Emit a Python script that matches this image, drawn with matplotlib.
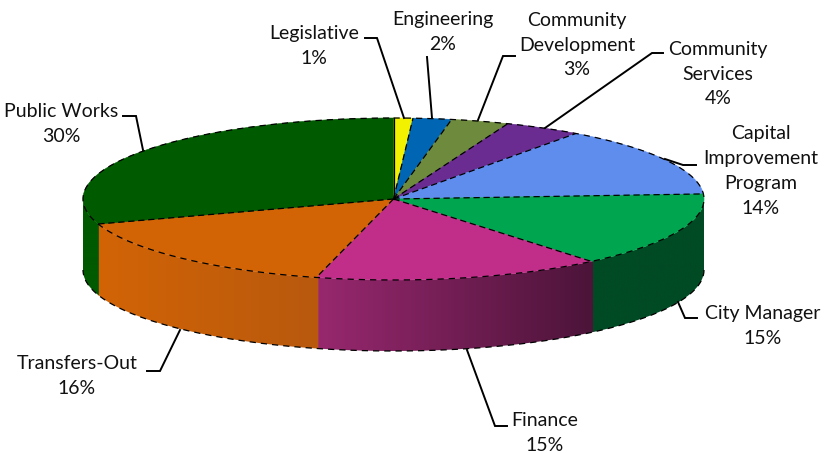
import numpy as np
import matplotlib
matplotlib.use('Agg')
import matplotlib.pyplot as plt
from matplotlib.colors import to_rgb
from matplotlib.patches import Polygon

names = ['Legislative', 'Engineering', 'Community\nDevelopment', 'Community\nServices',
         'Capital\nImprovement\nProgram', 'City Manager', 'Finance', 'Transfers-Out', 'Public Works']
values = [1, 2, 3, 4, 14, 15, 15, 16, 30]

top_colors = ['#f2f200', '#0066b3', '#6e8b3d', '#6a2c91', '#5f8dee',
              '#00a64f', '#c02e8a', '#d26405', '#005a00']
# wall shading, left end then right end of the visible side
wall_colors = {5: ('#004a24', '#004a24'),
               6: ('#98286f', '#4c1439'),
               7: ('#d26405', '#b8590e'),
               8: ('#005a00', '#005a00')}

# pie geometry in pixels
cx, cy = 393.5, 199
rx, ry = 310.5, 81
depth = 71

label_pos = [(314, 46), (443, 32), (577, 45), (718, 74), (761, 171),
             (763, 326), (545, 433), (77, 376), (61, 124)]
leaders = [[(365, 38), (377, 38), (404, 118)],
           [(427, 57), (432, 118)],
           [(515, 56), (503, 56), (478, 120)],
           [(663, 53), (652, 53), (545, 128)],
           [(696, 165), (683, 165), (665, 159)],
           [(697, 318), (685, 318), (678, 302)],
           [(507, 426), (495, 426), (467, 350)],
           [(147, 371), (160, 371), (180, 330)],
           [(123, 116), (136, 116), (143, 150)]]


def rim(theta):
    t = np.radians(theta)
    return cx + rx * np.sin(t), cy - ry * np.cos(t)


plt.rcParams['font.family'] = ['Lato', 'DejaVu Sans']

fig = plt.figure(figsize=(8.25, 4.53), dpi=100)
ax = fig.add_axes([0, 0, 1, 1])

edges = np.concatenate([[0], np.cumsum(values)]) * 360.0 / sum(values)

# side walls, front half only: a horizontal gradient clipped to each wall
for i, c in wall_colors.items():
    # small overlap so no seam shows between neighbouring walls
    ts = np.linspace(max(edges[i] - 0.4, 90), min(edges[i + 1], 270), 60)
    x, y = rim(ts)
    outline = np.column_stack([np.r_[x, x[::-1]], np.r_[y, y[::-1] + depth]])
    c0, c1 = np.array(to_rgb(c[0])), np.array(to_rgb(c[1]))
    f = np.linspace(0, 1, 256)[None, :, None]
    grad = c0 * (1 - f) + c1 * f
    im = ax.imshow(grad, extent=[x.min(), x.max(), y.max() + depth, y.min()],
                   aspect='auto', zorder=1)
    wall = Polygon(outline, closed=True, facecolor='none', edgecolor='none',
                   transform=ax.transData)
    ax.add_patch(wall)
    im.set_clip_path(wall)

ax.set_xlim(0, 825)
ax.set_ylim(453, 0)
ax.axis('off')

# bottom rim of the walls
ts = np.linspace(90, 270, 200)
bx, by = rim(ts)
ax.plot(bx, by + depth, color='black', lw=0.9, ls=(0, (5, 4)), zorder=2)

# top face
for i, c in enumerate(top_colors):
    ts = np.linspace(edges[i], edges[i + 1], 80)
    x, y = rim(ts)
    pts = np.column_stack([np.r_[cx, x], np.r_[cy, y]])
    ax.add_patch(Polygon(pts, closed=True, facecolor=c, edgecolor=c, lw=0.4, zorder=3))

for i, a in enumerate(edges[:-1]):
    x, y = rim(a)
    ls = '-' if i == 0 else (0, (5, 3))
    ax.plot([cx, x], [cy, y], color='black', lw=0.9, ls=ls, zorder=4)
ts = np.linspace(0, 360, 400)
x, y = rim(ts)
ax.plot(x, y, color='black', lw=0.9, ls=(0, (5, 4)), zorder=4)

# leader lines and labels
for pts in leaders:
    xs, ys = zip(*pts)
    ax.plot(xs, ys, color='black', lw=1.4, solid_joinstyle='miter', zorder=5)

for name, v, (x, y) in zip(names, values, label_pos):
    ax.text(x, y, f'{name}\n{v}%', ha='center', va='center', fontsize=14,
            linespacing=1.55, color='#111111', zorder=6)

fig.savefig('out.png', dpi=100, facecolor='white')
